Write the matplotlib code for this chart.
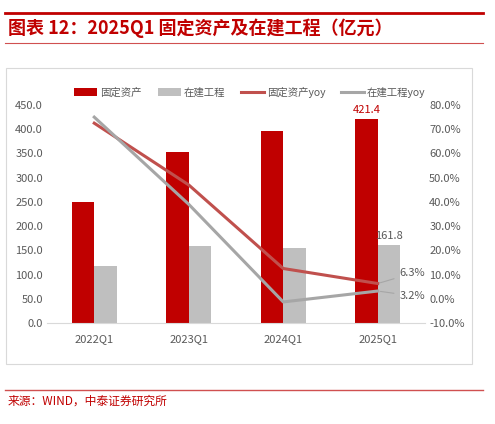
import matplotlib
matplotlib.use("Agg")
import matplotlib.pyplot as plt
from matplotlib.lines import Line2D
from matplotlib.patches import Rectangle
import numpy as np

plt.rcParams['font.family'] = ['Noto Sans CJK SC', 'DejaVu Sans']

categories = ['2022Q1', '2023Q1', '2024Q1', '2025Q1']
fixed_assets = [250.0, 353.0, 396.0, 421.4]
construction = [118.0, 159.0, 155.0, 161.8]
fixed_yoy = [72.5, 47.0, 12.5, 6.3]
constr_yoy = [75.0, 39.0, -1.3, 3.2]

W, H = 495, 424
fig = plt.figure(figsize=(W/100, H/100), dpi=100)
red = '#C00000'; gray = '#BFBFBF'

fig.add_artist(Line2D([5/W, 483/W], [1-13/H, 1-13/H], color='#C00000', lw=2))
fig.add_artist(Line2D([5/W, 483/W], [1-43/H, 1-43/H], color='#D05050', lw=0.8))
fig.text(8/W, 1-28/H, '图表 12：2025Q1 固定资产及在建工程（亿元）', color=red,
         fontsize=13, fontweight='bold', fontstyle='italic', va='center')
fig.add_artist(Rectangle((6/W, 1-364/H), 466/W, 296/H, fill=False, ec='#D9D9D9', lw=0.8))
fig.add_artist(Line2D([5/W, 483/W], [1-390/H, 1-390/H], color='#D05050', lw=1))
fig.text(8/W, 1-401/H, '来源：WIND，中泰证券研究所', color=red, fontsize=8.5, va='center')

ax = fig.add_axes([47/W, 1-323/H, 378/W, 218/H])
x = np.arange(len(categories))
bw = 0.24
ax.bar(x - bw/2, fixed_assets, bw, color=red, label='固定资产')
ax.bar(x + bw/2, construction, bw, color=gray, label='在建工程')
ax.set_ylim(0, 450)
ax.set_yticks(np.arange(0, 451, 50))
ax.set_yticklabels([f'{v:.1f}' for v in np.arange(0, 451, 50)])
ax.set_xlim(-0.5, 3.5)
ax.set_xticks(x)
ax.set_xticklabels(categories)
for s in ['top', 'right', 'left']:
    ax.spines[s].set_visible(False)
ax.spines['bottom'].set_color('#D9D9D9')
ax.tick_params(length=0, labelsize=8, colors='#595959', pad=8)
ax.tick_params(axis='y', pad=3)

ax2 = ax.twinx()
ax2.plot(x, fixed_yoy, color='#C0504D', lw=2.2, label='固定资产yoy')
ax2.plot(x, constr_yoy, color='#A6A6A6', lw=2.2, label='在建工程yoy')
ax2.set_ylim(-10, 80)
ax2.set_yticks(np.arange(-10, 81, 10))
ax2.set_yticklabels([f'{v:.1f}%' for v in np.arange(-10, 81, 10)])
for s in ax2.spines.values():
    s.set_visible(False)
ax2.tick_params(length=0, labelsize=8, colors='#595959', pad=3)

ax.annotate(f'{fixed_assets[3]:.1f}', (x[3]-bw/2, fixed_assets[3]), xytext=(0, 4),
            textcoords='offset points', ha='center', fontsize=8, color=red)
ax.annotate(f'{construction[3]:.1f}', (x[3]+bw/2, construction[3]), xytext=(0, 4),
            textcoords='offset points', ha='center', fontsize=8, color='#595959')
ax2.annotate(f'{fixed_yoy[3]:.1f}%', (x[3], fixed_yoy[3]), xytext=(x[3]+0.23, 10.5),
             fontsize=8, color='#595959', va='center',
             arrowprops=dict(arrowstyle='-', color='#A6A6A6', lw=0.8))
ax2.annotate(f'{constr_yoy[3]:.1f}%', (x[3], constr_yoy[3]), xytext=(x[3]+0.23, 1.2),
             fontsize=8, color='#595959', va='center',
             arrowprops=dict(arrowstyle='-', color='#A6A6A6', lw=0.8))

h1, l1 = ax.get_legend_handles_labels()
h2, l2 = ax2.get_legend_handles_labels()
fig.legend(h1 + h2, l1 + l2, loc='center', bbox_to_anchor=(250/W, 1-92/H), ncol=4,
           frameon=False, fontsize=7.5, labelcolor='#595959', handlelength=2.2,
           columnspacing=1.5, handletextpad=0.3)

fig.savefig('out.png', dpi=100)
